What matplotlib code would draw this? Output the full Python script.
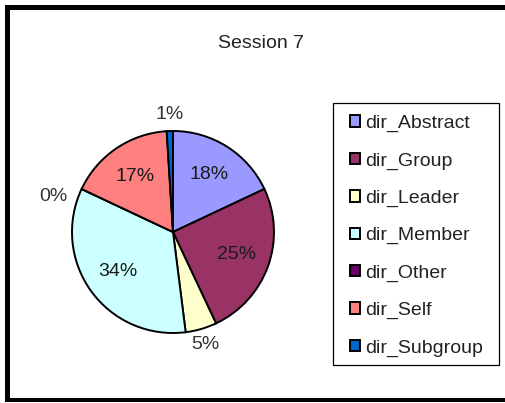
import numpy as np
import matplotlib
matplotlib.use("Agg")
import matplotlib.pyplot as plt
from matplotlib.patches import Rectangle

plt.rcParams["font.family"] = ["Liberation Sans", "DejaVu Sans"]

# data
categories = ["dir_Abstract", "dir_Group", "dir_Leader", "dir_Member",
              "dir_Other", "dir_Self", "dir_Subgroup"]
percent = [18, 25, 5, 34, 0, 17, 1]
colors = ["#9999FF", "#993366", "#FFFFCC", "#CCFFFF", "#660066", "#FF8080", "#0066CC"]
title = "Session 7"

W, H = 505, 403
fig = plt.figure(figsize=(W / 100, H / 100), dpi=100)

# pie axes: centre (173, 232) px, radius ~101 px
cx, cy, r = 173, 232, 101
ax = fig.add_axes([(cx - r) / W, (H - cy - r) / H, 2 * r / W, 2 * r / H])
wedges, _ = ax.pie(percent, colors=colors, startangle=90, counterclock=False,
                   wedgeprops=dict(edgecolor="black", linewidth=1.4))
ax.set_xlim(-1, 1)
ax.set_ylim(-1, 1)
ax.set_aspect("equal")
ax.axis("off")

# labels: big slices inside, small ones outside (excel "best fit" look)
for w, p in zip(wedges, percent):
    mid = np.deg2rad((w.theta1 + w.theta2) / 2)
    if p >= 10:
        rad, col = 0.67, "#1a1a1a"
    else:
        rad, col = 1.16, "#333333"
        if p == 0:
            mid += np.deg2rad(8.5)
            rad = 1.24
    ax.text(rad * np.cos(mid), rad * np.sin(mid), f"{p}%", ha="center", va="center",
            fontsize=14, color=col)

fig.text(261 / W, 1 - 43 / H, title, ha="center", va="center", fontsize=14, color="#222222")

# legend entries (no frame, box drawn separately to get excel-like padding)
leg = fig.legend(wedges, categories, loc="upper left",
                 bbox_to_anchor=(350 / W, 1 - 115 / H), borderaxespad=0,
                 fontsize=14, handlelength=0.52, handleheight=0.52, handletextpad=0.27,
                 labelspacing=1.04, borderpad=0, frameon=False)
for t in leg.get_texts():
    t.set_color("#222222")
fig.add_artist(Rectangle((333 / W, 1 - 365 / H), 166 / W, 262 / H,
                         transform=fig.transFigure, facecolor="none",
                         edgecolor="black", linewidth=0.9))

# thick outer frame (left, top, bottom)
frame = [(5, 5, 5, 397), (5, 5, 500, 5), (5, 398, 500, 4)]
for x0, y0, w_, h_ in frame:
    fig.add_artist(Rectangle((x0 / W, 1 - (y0 + h_) / H), w_ / W, h_ / H,
                             transform=fig.transFigure, facecolor="black",
                             edgecolor="none"))

fig.savefig("out.png", dpi=100)
